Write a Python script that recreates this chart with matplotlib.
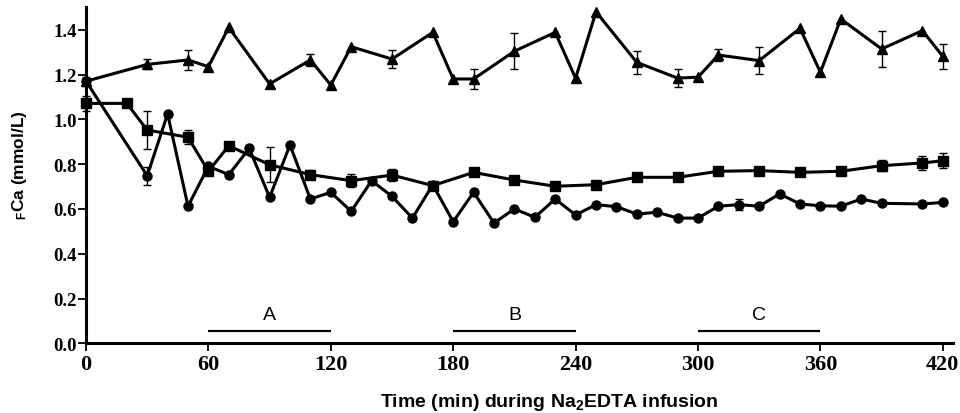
import matplotlib
matplotlib.use("Agg")
import matplotlib.pyplot as plt
from matplotlib.ticker import FormatStrFormatter

# ---- data ----
tri_t = [0, 30, 50, 60, 70, 90, 110, 120, 130, 150, 170, 180, 190, 210, 230, 240,
         250, 270, 290, 300, 310, 330, 350, 360, 370, 390, 410, 420]
tri_v = [1.17, 1.245, 1.265, 1.235, 1.41, 1.158, 1.265, 1.153, 1.324, 1.269, 1.388,
         1.18, 1.18, 1.304, 1.388, 1.183, 1.48, 1.254, 1.184, 1.188, 1.287, 1.262,
         1.406, 1.21, 1.448, 1.314, 1.396, 1.281]
tri_err_t = [0, 30, 50, 110, 150, 190, 210, 270, 290, 310, 330, 390, 420]
tri_err_v = [1.17, 1.245, 1.265, 1.265, 1.269, 1.18, 1.304, 1.254, 1.184, 1.287, 1.262, 1.314, 1.281]
tri_err = [0.02, 0.022, 0.045, 0.026, 0.042, 0.045, 0.08, 0.05, 0.04, 0.028, 0.06, 0.08, 0.057]

sq_t = [0, 20, 30, 50, 60, 70, 90, 110, 130, 150, 170, 190, 210, 230, 250, 270,
        290, 310, 330, 350, 370, 390, 410, 420]
sq_v = [1.071, 1.071, 0.952, 0.92, 0.768, 0.882, 0.797, 0.753, 0.726, 0.751, 0.704,
        0.763, 0.729, 0.701, 0.708, 0.741, 0.741, 0.768, 0.771, 0.763, 0.768, 0.793,
        0.805, 0.815]
sq_err_t = [0, 30, 50, 90, 110, 130, 150, 390, 410, 420]
sq_err_v = [1.071, 0.952, 0.92, 0.797, 0.753, 0.726, 0.751, 0.793, 0.805, 0.815]
sq_err = [0.035, 0.085, 0.032, 0.078, 0.02, 0.03, 0.025, 0.026, 0.03, 0.034]

circ_t = [0, 30, 40, 50, 60, 70, 80, 90, 100, 110, 120, 130, 140, 150, 160, 170,
          180, 190, 200, 210, 220, 230, 240, 250, 260, 270, 280, 290, 300, 310,
          320, 330, 340, 350, 360, 370, 380, 390, 410, 420]
circ_v = [1.17, 0.748, 1.024, 0.612, 0.79, 0.753, 0.87, 0.652, 0.885, 0.644, 0.674,
          0.589, 0.726, 0.656, 0.559, 0.708, 0.543, 0.674, 0.537, 0.6, 0.5625, 0.644,
          0.573, 0.619, 0.61, 0.577, 0.585, 0.559, 0.559, 0.612, 0.619, 0.612, 0.667,
          0.622, 0.614, 0.612, 0.644, 0.625, 0.622, 0.629]
circ_err_t = [30, 320]
circ_err_v = [0.748, 0.619]
circ_err = [0.04, 0.025]

periods = ["A", "B", "C"]
period_start = [60, 180, 300]
period_end = [120, 240, 360]

x_ticks = [0, 60, 120, 180, 240, 300, 360, 420]
y_ticks = [0.0, 0.2, 0.4, 0.6, 0.8, 1.0, 1.2, 1.4]

# ---- figure ----
plt.rcParams["mathtext.fontset"] = "custom"
plt.rcParams["mathtext.rm"] = "Liberation Sans:bold"
plt.rcParams["mathtext.it"] = "Liberation Sans:bold"
plt.rcParams["mathtext.bf"] = "Liberation Sans:bold"

fig = plt.figure(figsize=(9.6, 4.14), dpi=100)
ax = fig.add_axes([86 / 960, 69.7 / 414, 867 / 960, 336 / 414])

lw = 2.2
ax.plot(tri_t, tri_v, color="black", lw=lw, marker="^", ms=7, clip_on=False, zorder=3)
ax.plot(sq_t, sq_v, color="black", lw=lw, marker="s", ms=6.5, clip_on=False, zorder=3)
ax.plot(circ_t, circ_v, color="black", lw=lw, marker="o", ms=6.5, clip_on=False, zorder=3)

for et, ev, ee in [(tri_err_t, tri_err_v, tri_err),
                   (sq_err_t, sq_err_v, sq_err),
                   (circ_err_t, circ_err_v, circ_err)]:
    ax.errorbar(et, ev, yerr=ee, fmt="none", ecolor="black", elinewidth=1.0,
                capsize=3, capthick=1.0, clip_on=False, zorder=2)

for lab, s, e in zip(periods, period_start, period_end):
    ax.plot([s, e], [0.053, 0.053], color="black", lw=1.6, solid_capstyle="butt")
    ax.text((s + e) / 2, 0.128, lab, ha="center", va="center", fontsize=14,
            family="Liberation Sans")

ax.set_xlim(0, 425)
ax.set_ylim(0, 1.5)
ax.set_xticks(x_ticks)
ax.set_yticks(y_ticks)
ax.yaxis.set_major_formatter(FormatStrFormatter("%.1f"))

for sp in ["top", "right"]:
    ax.spines[sp].set_visible(False)
for sp in ["left", "bottom"]:
    ax.spines[sp].set_linewidth(2.2)

ax.tick_params(axis="both", direction="out", length=6, width=1.3, color="black")
ax.tick_params(axis="x", pad=2)
ax.tick_params(axis="y", pad=0.5)
for lbl in ax.get_xticklabels():
    lbl.set_fontfamily("Liberation Serif")
    lbl.set_fontweight("bold")
    lbl.set_fontsize(16)
for lbl in ax.get_yticklabels():
    lbl.set_fontfamily("Liberation Serif")
    lbl.set_fontweight("bold")
    lbl.set_fontsize(13.5)

fig.text(20 / 960, 1 - 165 / 414, r"$_{\mathrm{F}}$Ca (mmol/L)", rotation=90,
         ha="center", va="center", fontsize=12.5, fontweight="bold",
         family="Liberation Sans")
fig.text(549 / 960, 11 / 414, r"Time (min) during Na$_{\mathrm{2}}$EDTA infusion",
         ha="center", va="center", fontsize=14, fontweight="bold",
         family="Liberation Sans")

fig.savefig("out.png", dpi=100)
